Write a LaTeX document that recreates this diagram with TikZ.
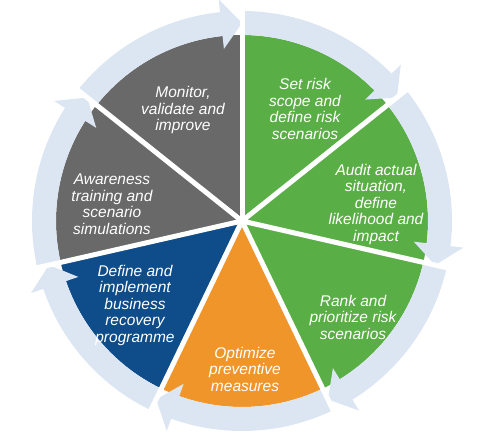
\documentclass[tikz,border=0pt]{standalone}
\usepackage{fontspec}
\setmainfont{Liberation Sans}
\usetikzlibrary{positioning}
\definecolor{riskgreen}{RGB}{90,174,70}
\definecolor{riskgray}{RGB}{105,105,105}
\definecolor{riskblue}{RGB}{15,76,138}
\definecolor{riskorange}{RGB}{240,149,42}
\definecolor{ringblue}{RGB}{220,230,242}

\begin{document}
\begin{tikzpicture}[x=1pt, y=1pt,
    steptext/.style = {align=center, text=white, inner sep=0pt,
      font=\itshape\fontsize{15.5}{16.5}\selectfont}]
  \useasboundingbox (-242,-223) rectangle (245,221);
  % pie segments with their ring arrows, clockwise from the top
  \foreach \a/\col in {90/riskgreen, 38.5714/riskgreen, -12.8571/riskgreen,
      -64.2857/riskorange, -115.7143/riskblue, -167.1429/riskgray,
      -218.5714/riskgray}{
    \pgfmathsetmacro\b{\a-51.4286}
    \pgfmathsetmacro\c{\b+6}
    \fill[\col] (0,0) -- (\a:186) arc[start angle=\a, end angle=\b, radius=186] -- cycle;
    \fill[ringblue] (\a:210) arc[start angle=\a, end angle=\c, radius=210]
      -- (\c:223) -- (\b:198) -- (\c:173) -- (\c:186)
      arc[start angle=\c, end angle=\a, radius=186] -- cycle;
  }
  % white gaps between the segments
  \foreach \i in {0,...,6}
    \draw[white, line width=5pt] (0,0) -- (90-\i*51.4286:232);

  \node[steptext] (scope)    at (63,112)   {Set risk\\scope and\\define risk\\scenarios};
  \node[steptext] (audit)    at (134,17)   {Audit actual\\situation,\\define\\likelihood and\\impact};
  \node[steptext] (rank)     at (111,-96)  {Rank and\\prioritize risk\\scenarios};
  \node[steptext] (optimize) at (3,-148)   {Optimize\\preventive\\measures};
  \node[steptext] (recovery) at (-107,-84) {Define and\\implement\\business\\recovery\\programme};
  \node[steptext] (training) at (-130,17)  {Awareness\\training and\\scenario\\simulations};
  \node[steptext] (monitor)  at (-59,111)  {Monitor,\\validate and\\improve};
\end{tikzpicture}
\end{document}
